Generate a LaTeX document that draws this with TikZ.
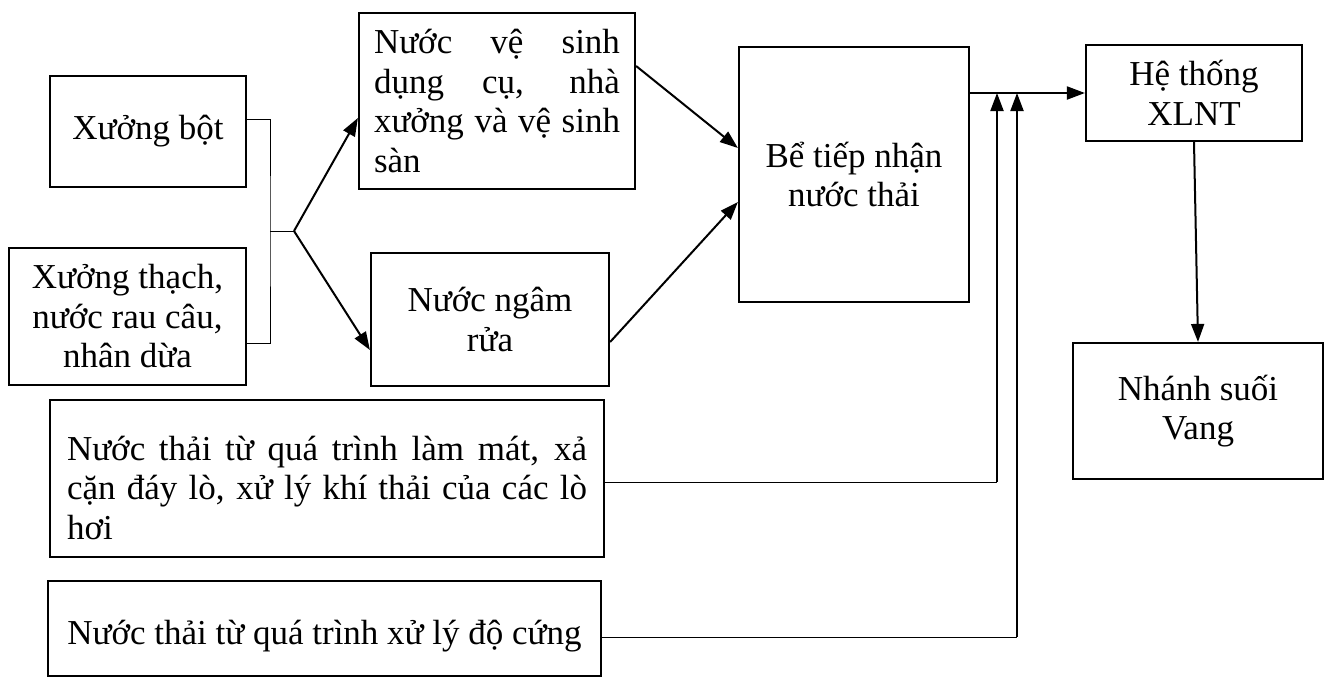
\documentclass[tikz,border=0pt]{standalone}
\usepackage{fontspec}
\setmainfont{Liberation Serif}
\usetikzlibrary{arrows.meta}
\begin{document}
\begin{tikzpicture}[x=1pt,y=-1pt,
  box/.style={draw, line width=2.2pt, inner sep=0pt, align=center,
    font=\fontsize{35}{39.5}\selectfont},
  arr/.style={line width=2pt, -{Triangle[length=18pt,width=13pt]}},
  thinline/.style={line width=1pt},
]
\useasboundingbox (0,0) rectangle (1330,678);

\node[box, minimum width=196pt, minimum height=111pt] (A) at (148,131.5) {Xưởng bột};
\node[box, minimum width=237pt, minimum height=137pt] (B) at (127.5,316.5) {Xưởng thạch,\\nước rau câu,\\nhân dừa};
\node[box, minimum width=276pt, minimum height=176pt] (C) at (497,101)
  {\parbox{246pt}{\fontsize{35}{39.5}\selectfont
   \makebox[246pt][s]{Nước vệ sinh}\\
   \makebox[246pt][s]{dụng cụ, nhà}\\
   \makebox[246pt][s]{xưởng và vệ sinh}\\
   sàn}};
\node[box, minimum width=238pt, minimum height=133pt] (D) at (490,319.5) {Nước ngâm\\rửa};
\node[box, minimum width=230pt, minimum height=255pt] (E) at (854,174.5) {Bể tiếp nhận\\nước thải};
\node[box, minimum width=216pt, minimum height=96pt] (F) at (1194,93) {Hệ thống\\XLNT};
\node[box, minimum width=250pt, minimum height=136pt] (G) at (1198,411) {Nhánh suối\\Vang};
\node[box, minimum width=554pt, minimum height=157pt] (H) at (327,478.5)
  {\raisebox{-9pt}[\height][\depth]{\parbox{520pt}{\fontsize{35}{39.5}\selectfont
   \makebox[520pt][s]{Nước thải từ quá trình làm mát, xả}\\
   \makebox[520pt][s]{cặn đáy lò, xử lý khí thải của các lò}\\
   hơi}}};
\node[box, minimum width=553pt, minimum height=95pt] (I) at (324.5,628.5)
  {\raisebox{-8pt}[\height][\depth]{Nước thải từ quá trình xử lý độ cứng}};

% bracket from the two workshops
\coordinate (j) at (270,231);
\coordinate (jm) at (294,231);
\draw[thinline] ([yshift=12.5pt]A.east) -| (j) |- ([yshift=-26.5pt]B.east);
\draw[thinline] (j) -- (jm);
\draw[arr] (jm) -- ([yshift=-17pt]C.west);
\draw[arr] (jm) -- ([yshift=-30.5pt]D.west);

\draw[arr] ([yshift=35pt]C.east) -- ([yshift=26.5pt]E.west);
\draw[arr] ([yshift=-22.5pt]D.east) -- ([yshift=-27.5pt]E.west);

\draw[arr] ([yshift=81.5pt]E.east) -- (F.west);
\draw[arr] (F.south) -- (G.north);

% side inflows
\coordinate (h1) at (997,482);
\coordinate (v1) at (997,93);
\coordinate (h2) at (1017,637);
\coordinate (v2) at (1017,93);
\draw[thinline] ([yshift=-3.5pt]H.east) -- (h1);
\draw[arr] (h1) -- (v1);
\draw[thinline] ([yshift=-8.5pt]I.east) -- (h2);
\draw[arr] (h2) -- (v2);
\end{tikzpicture}
\end{document}
